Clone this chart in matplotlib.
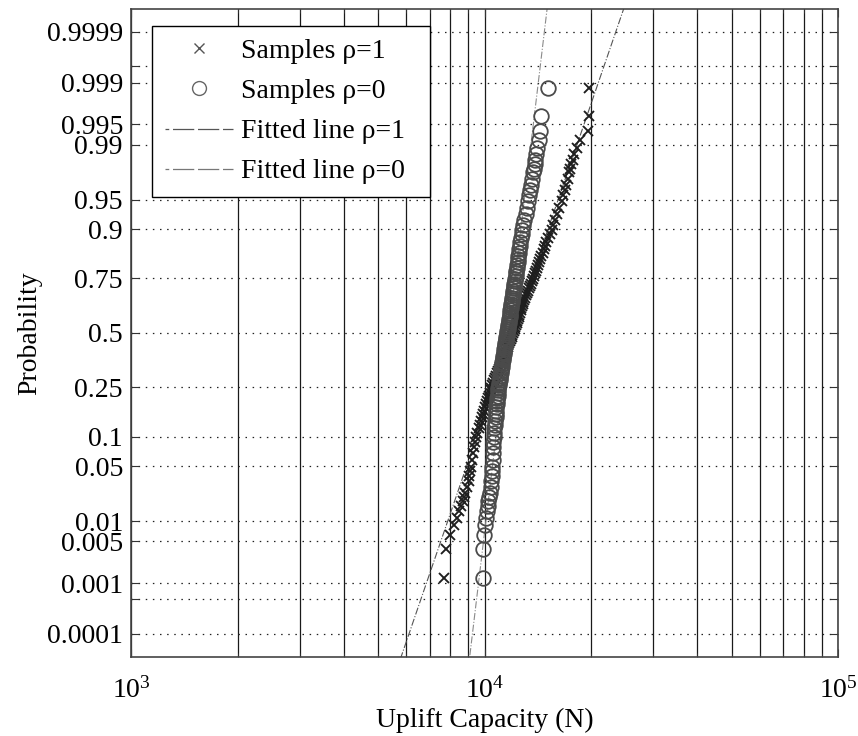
import math
import numpy as np
import matplotlib
matplotlib.use("Agg")
import matplotlib.pyplot as plt
from matplotlib.ticker import FixedLocator, FixedFormatter, LogLocator, LogFormatterMathtext, NullFormatter
from matplotlib.lines import Line2D

# ---------------- data ----------------
n_samples = 400
ranks = [1, 2, 3, 4, 5, 6, 7, 8, 9, 10, 12, 14, 16, 18,
         20, 24, 28, 32, 36, 40, 44, 48, 52, 56, 60, 64, 68, 72, 76, 80, 84, 88, 92, 96, 100,
         104, 108, 112, 116, 120, 124, 128, 132, 136, 140,
         144, 148, 152, 156, 160, 164, 168, 172, 176, 180,
         184, 188, 192, 196, 200, 204, 208, 212, 216, 220,
         224, 228, 232, 236, 240, 244, 248, 252, 256, 260,
         264, 268, 272, 276, 280, 284, 288, 292, 296, 300,
         304, 308, 312, 316, 320, 324, 328, 332, 336, 340,
         344, 348, 352, 356, 360, 364, 368, 372, 376, 380,
         383, 385, 387, 389, 391, 392, 393, 394, 395, 396, 397, 398, 399, 400]

uplift_rho1 = [7663, 7789, 7969, 8207, 8342, 8479, 8590, 8703, 8766, 8817, 8915, 9009, 9056, 9104,
               9145, 9223, 9283, 9338, 9393, 9442, 9531, 9614, 9692, 9765, 9835, 9903, 9973,
               10037, 10098, 10160, 10219, 10278, 10337, 10394, 10447,
               10518, 10586, 10653, 10720, 10786, 10853, 10917, 10982, 11044, 11107,
               11171, 11235, 11296, 11357, 11421, 11483, 11548, 11610, 11673, 11733,
               11797, 11864, 11927, 11989, 12051, 12104, 12157, 12210, 12261, 12313,
               12369, 12423, 12479, 12533, 12589, 12645, 12702, 12760, 12815, 12872,
               12946, 13020, 13097, 13176, 13255, 13340, 13429, 13517, 13607, 13698,
               13789, 13877, 13962, 14057, 14157, 14253, 14359, 14468, 14586, 14706,
               14829, 14960, 15103, 15267, 15462, 15646, 15844, 16052, 16282, 16525,
               16709, 16852, 17006, 17185, 17376, 17490, 17604, 17777, 17952, 18247,
               18669, 19669, 19708, 19798]

uplift_rho0 = [9883, 9916, 9948, 10046, 10112, 10178, 10211, 10244, 10298, 10345, 10406, 10440, 10467, 10488,
               10508, 10542, 10563, 10577, 10591, 10605, 10633, 10661, 10688, 10712, 10735, 10758, 10782,
               10802, 10821, 10845, 10866, 10885, 10899, 10916, 10935,
               10964, 10992, 11019, 11045, 11071, 11098, 11123, 11150, 11176, 11202,
               11228, 11254, 11279, 11302, 11327, 11349, 11374, 11397, 11422, 11446,
               11473, 11500, 11525, 11549, 11573, 11594, 11615, 11638, 11662, 11687,
               11712, 11736, 11759, 11780, 11802, 11826, 11851, 11876, 11900, 11925,
               11950, 11975, 12002, 12030, 12058, 12086, 12115, 12143, 12172, 12201,
               12233, 12264, 12297, 12329, 12362, 12393, 12430, 12467, 12505, 12543,
               12582, 12626, 12674, 12724, 12774, 12861, 12955, 13060, 13173, 13292,
               13385, 13455, 13534, 13623, 13721, 13784, 13856, 13920, 13983, 14075,
               14222, 14334, 14428, 15082]

# fitted lognormal lines: log10 median and log10 sigma
fit_log10_median = [4.0785, 4.0672]   # rho=1, rho=0
fit_log10_sigma = [0.0787, 0.02737]

prob_ticks = [0.0001, 0.0005, 0.001, 0.005, 0.01, 0.05, 0.1, 0.25, 0.5,
              0.75, 0.9, 0.95, 0.99, 0.995, 0.999, 0.9995, 0.9999]
prob_labels = ["0.0001", "", "0.001", "0.005", "0.01", "0.05", "0.1", "0.25", "0.5",
               "0.75", "0.9", "0.95", "0.99", "0.995", "0.999", "", "0.9999"]

legend_labels = ["Samples \u03c1=1", "Samples \u03c1=0",
                 "Fitted line \u03c1=1", "Fitted line \u03c1=0"]

# ---------------- normal probability scale ----------------
_a = [-3.969683028665376e+01, 2.209460984245205e+02, -2.759285104469687e+02,
      1.383577518672690e+02, -3.066479806614716e+01, 2.506628277459239e+00]
_b = [-5.447609879822406e+01, 1.615858368580409e+02, -1.556989798598866e+02,
      6.680131188771972e+01, -1.328068155288572e+01]
_c = [-7.784894002430293e-03, -3.223964580411365e-01, -2.400758277161838e+00,
      -2.549732539343734e+00, 4.374664141464968e+00, 2.938163982698783e+00]
_d = [7.784695709041462e-03, 3.224671290700398e-01, 2.445134137142996e+00,
      3.754408661907416e+00]


def _ppf1(p):
    p = min(max(p, 1e-15), 1 - 1e-15)
    plow = 0.02425
    if p < plow:
        q = math.sqrt(-2 * math.log(p))
        x = (((((_c[0]*q+_c[1])*q+_c[2])*q+_c[3])*q+_c[4])*q+_c[5]) / \
            ((((_d[0]*q+_d[1])*q+_d[2])*q+_d[3])*q+1)
    elif p > 1 - plow:
        q = math.sqrt(-2 * math.log(1 - p))
        x = -(((((_c[0]*q+_c[1])*q+_c[2])*q+_c[3])*q+_c[4])*q+_c[5]) / \
            ((((_d[0]*q+_d[1])*q+_d[2])*q+_d[3])*q+1)
    else:
        q = p - 0.5
        r = q * q
        x = (((((_a[0]*r+_a[1])*r+_a[2])*r+_a[3])*r+_a[4])*r+_a[5])*q / \
            (((((_b[0]*r+_b[1])*r+_b[2])*r+_b[3])*r+_b[4])*r+1)
    e = 0.5 * math.erfc(-x / math.sqrt(2)) - p
    u = e * math.sqrt(2 * math.pi) * math.exp(x * x / 2)
    return x - u / (1 + x * u / 2)


def norm_ppf(p):
    arr = np.asarray(p, dtype=float)
    out = np.array([_ppf1(v) if np.isfinite(v) else np.nan for v in arr.ravel()])
    return out.reshape(arr.shape)


def norm_cdf(z):
    arr = np.asarray(z, dtype=float)
    out = np.array([0.5 * math.erfc(-v / math.sqrt(2)) if np.isfinite(v) else np.nan
                    for v in arr.ravel()])
    return out.reshape(arr.shape)


# ---------------- figure ----------------
plt.rcParams["font.family"] = ["Liberation Serif", "DejaVu Serif"]
plt.rcParams["mathtext.fontset"] = "custom"
plt.rcParams["mathtext.rm"] = "Liberation Serif"
plt.rcParams["mathtext.it"] = "Liberation Serif:italic"

FS = 20

fig = plt.figure(figsize=(8.58, 7.36), dpi=100)
ax = fig.add_axes([131.3 / 858, (736 - 656.7) / 736, (838 - 131.3) / 858, 647.7 / 736])

ax.set_xscale("log")
ax.set_yscale("function", functions=(norm_ppf, norm_cdf))

probs = (np.array(ranks) - 0.5) / n_samples

# fitted lines
zl = np.array([-5.0, 5.0])
line_cols = ["#555555", "#8a8a8a"]
for med, sig, col in zip(fit_log10_median, fit_log10_sigma, line_cols):
    ax.plot(10 ** (med + sig * zl), norm_cdf(zl), linestyle="-.", color=col,
            lw=0.8, zorder=2)

ax.plot(uplift_rho1, probs, linestyle="none", marker="x", ms=7.2, mew=1.35,
        color="#1e1e1e", zorder=3)
ax.plot(uplift_rho0, probs, linestyle="none", marker="o", ms=10.5, mew=1.3,
        mfc="none", mec="#4a4a4a", zorder=4)

ax.set_xlim(1e3, 1e5)
ax.set_ylim(norm_cdf(-4.0), norm_cdf(4.0))

ax.yaxis.set_major_locator(FixedLocator(prob_ticks))
ax.yaxis.set_major_formatter(FixedFormatter(prob_labels))
ax.yaxis.set_minor_locator(FixedLocator([]))
ax.xaxis.set_major_locator(LogLocator(base=10, numticks=10))
ax.xaxis.set_major_formatter(LogFormatterMathtext())
ax.xaxis.set_minor_locator(LogLocator(base=10, subs=np.arange(2, 10), numticks=20))
ax.xaxis.set_minor_formatter(NullFormatter())

ax.tick_params(axis="both", which="both", direction="in", top=True, right=True,
               colors="#333333", labelcolor="black", labelsize=FS)
ax.tick_params(axis="y", which="major", length=6, pad=6)
ax.tick_params(axis="x", which="major", length=6, pad=15)
ax.tick_params(axis="x", which="minor", length=3)

ax.grid(True, axis="x", which="both", linestyle="-", color="#1a1a1a", lw=0.9)
ax.grid(True, axis="y", which="major", linestyle=(0, (1.2, 4.5)), color="#222222", lw=0.9)
ax.set_axisbelow(True)

for s in ax.spines.values():
    s.set_color("#444444")
    s.set_linewidth(1.2)

ax.set_xlabel("Uplift Capacity (N)", fontsize=FS, labelpad=3)
ax.set_ylabel("Probability", fontsize=FS, labelpad=3)

handles = [
    Line2D([], [], linestyle="none", marker="x", ms=7, mew=1.0, color="#555555"),
    Line2D([], [], linestyle="none", marker="o", ms=10, mew=1.0, mfc="none", mec="#666666"),
    Line2D([], [], linestyle=(0, (3, 3, 14, 0.001)), color="#555555", lw=0.9),
    Line2D([], [], linestyle=(0, (3, 3, 14, 0.001)), color="#777777", lw=0.9),
]
x0 = (152 - 131.3) / 706.7
y_top = (656.7 - 26) / 647.7
leg = ax.legend(handles, legend_labels, loc="upper left",
                bbox_to_anchor=(x0, 0.5, (430 - 152) / 706.7, y_top - 0.5), mode="expand",
                borderaxespad=0, fontsize=FS, frameon=True, fancybox=False,
                edgecolor="black", framealpha=1, handlelength=2.45,
                handletextpad=0.32, labelspacing=0.53, borderpad=0.45)
leg.get_frame().set_linewidth(1.0)

fig.savefig("out.png", dpi=100)
